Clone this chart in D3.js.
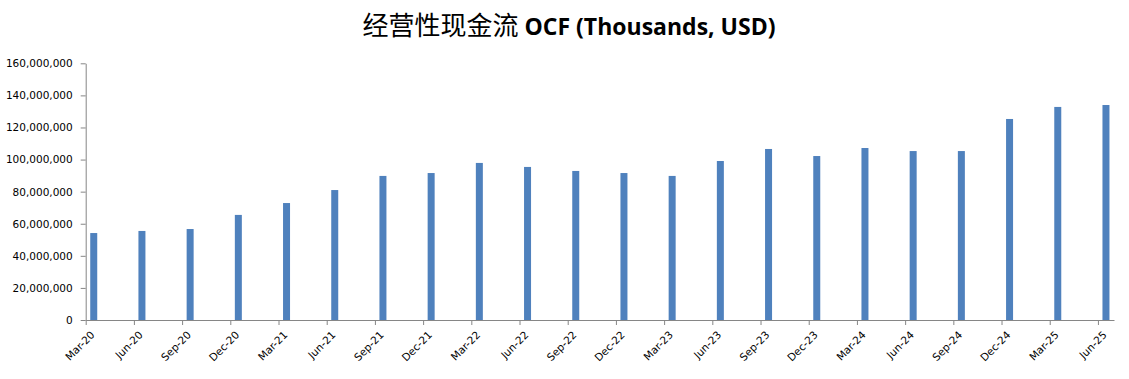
<!DOCTYPE html>
<html><head><meta charset="utf-8">
<script src="https://cdn.jsdelivr.net/npm/d3@7"></script>
<style>
body{margin:0;background:#fff;}
svg{display:block;}
</style></head>
<body>
<script>
const categories = ["Mar-20","Jun-20","Sep-20","Dec-20","Mar-21","Jun-21","Sep-21","Dec-21","Mar-22","Jun-22","Sep-22","Dec-22","Mar-23","Jun-23","Sep-23","Dec-23","Mar-24","Jun-24","Sep-24","Dec-24","Mar-25","Jun-25"];
const values = [54200000,55500000,56700000,65500000,72900000,81000000,89800000,91600000,97900000,95400000,92900000,91600000,89800000,99100000,106600000,102200000,107200000,105300000,105300000,125300000,132800000,134000000];
const yTicks = [0,20000000,40000000,60000000,80000000,100000000,120000000,140000000,160000000];
const titleCn = "经营性现金流";
const titleEn = " OCF (Thousands, USD)";

const W = 1129, H = 379;
const svg = d3.select("body").append("svg").attr("width", W).attr("height", H);

const monthsPerCat = 3;
const nMonths = categories.length * monthsPerCat - 2; // Mar-20 .. Jun-25 inclusive
const x = d3.scaleLinear().domain([0, nMonths]).range([85.7, 1114]);
const y = d3.scaleLinear().domain([0, 160000000]).range([320, 63.3]);

const axisColor = "#868686";
const textColor = "#000";
const font = "'Open Sans', 'Liberation Sans', sans-serif";
const axisFont = "'DejaVu Sans', sans-serif";

// Title
const title = svg.append("text")
  .attr("x", 569).attr("y", 35)
  .attr("text-anchor", "middle")
  .attr("fill", "#000");
title.append("tspan").text(titleCn)
  .attr("font-family", "'Noto Sans CJK SC', sans-serif")
  .attr("font-size", 26).attr("font-weight", 400);
title.append("tspan").text(titleEn)
  .attr("font-family", font)
  .attr("font-size", 23).attr("font-weight", 700);

// Y axis
const yAxis = d3.axisLeft(y).tickValues(yTicks).tickFormat(d3.format(",")).tickSize(5).tickSizeOuter(0).tickPadding(8);
const gy = svg.append("g").attr("transform", "translate(85.7,0)").call(yAxis);
gy.select(".domain").attr("stroke", axisColor);
gy.selectAll(".tick line").attr("stroke", axisColor);
gy.selectAll(".tick text").style("font-family", axisFont).style("font-size", "10.5px").attr("fill", textColor);

// X axis
const tickMonths = categories.map((c, i) => i * monthsPerCat);
const xAxis = d3.axisBottom(x).tickValues(tickMonths).tickFormat(() => "").tickSize(5).tickSizeOuter(0);
const gx = svg.append("g").attr("transform", "translate(0,320)").call(xAxis);
gx.select(".domain").attr("stroke", axisColor);
gx.selectAll(".tick line").attr("stroke", axisColor);

// X labels
svg.append("g").selectAll("text").data(categories).join("text")
  .attr("transform", (d, i) => `translate(${x(i * monthsPerCat + 0.5) - 1},${333}) rotate(-45)`)
  .attr("text-anchor", "end")
  .attr("dy", "0.35em")
  .style("font-family", axisFont).style("font-size", "10.5px").attr("fill", textColor)
  .text(d => d);

// Bars
const bw = 7;
svg.append("g").selectAll("rect").data(values).join("rect")
  .attr("x", (d, i) => x(i * monthsPerCat + 0.5) - bw / 2)
  .attr("width", bw)
  .attr("y", d => y(d))
  .attr("height", d => y(0) - y(d))
  .attr("fill", "#4f81bd");
</script>
</body></html>
